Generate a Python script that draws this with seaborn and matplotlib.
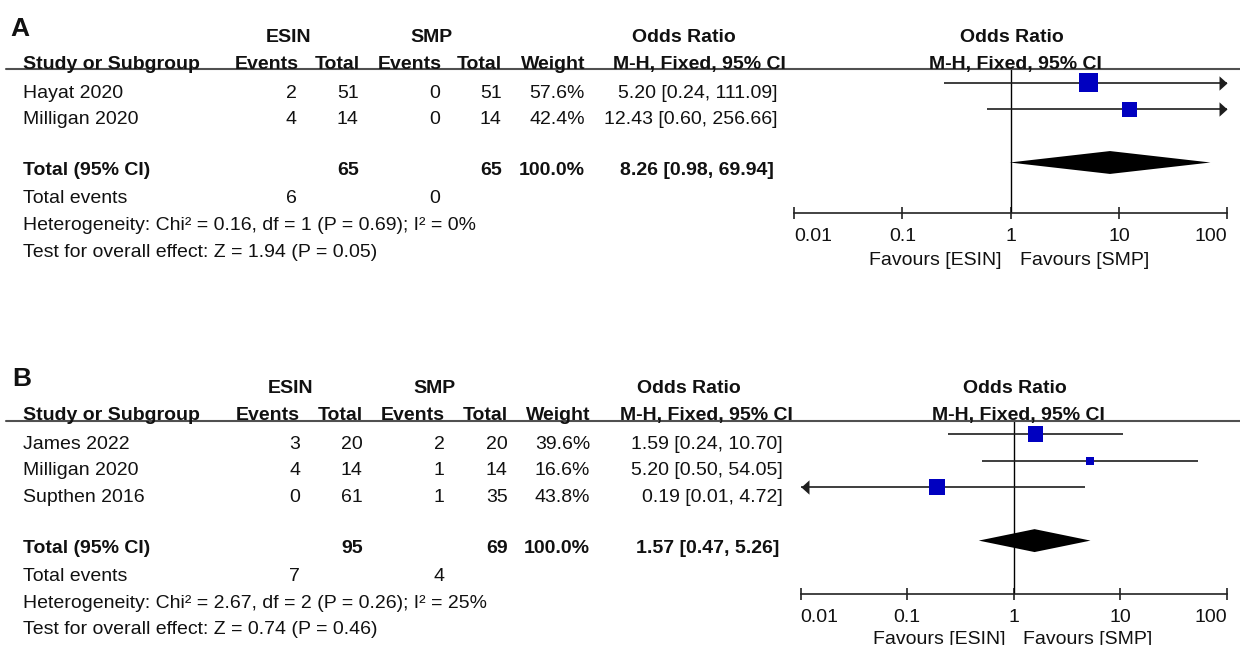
import numpy as np
import matplotlib
matplotlib.use("Agg")
import matplotlib.pyplot as plt
from matplotlib.lines import Line2D
from matplotlib.ticker import NullLocator
import seaborn as sns

# ---------------- data: panel A ----------------
a_studies = ["Hayat 2020", "Milligan 2020"]
a_esin_events = [2, 4]
a_esin_total = [51, 14]
a_smp_events = [0, 0]
a_smp_total = [51, 14]
a_weight = [57.6, 42.4]
a_or = [5.20, 12.43]
a_lo = [0.24, 0.60]
a_hi = [111.09, 256.66]
a_tot_esin, a_tot_smp = 65, 65
a_tot_or, a_tot_lo, a_tot_hi = 8.26, 0.98, 69.94
a_ev_esin, a_ev_smp = 6, 0
a_het = "Heterogeneity: Chi² = 0.16, df = 1 (P = 0.69); I² = 0%"
a_test = "Test for overall effect: Z = 1.94 (P = 0.05)"

# ---------------- data: panel B ----------------
b_studies = ["James 2022", "Milligan 2020", "Supthen 2016"]
b_esin_events = [3, 4, 0]
b_esin_total = [20, 14, 61]
b_smp_events = [2, 1, 1]
b_smp_total = [20, 14, 35]
b_weight = [39.6, 16.6, 43.8]
b_or = [1.59, 5.20, 0.19]
b_lo = [0.24, 0.50, 0.01]
b_hi = [10.70, 54.05, 4.72]
b_tot_esin, b_tot_smp = 95, 69
b_tot_or, b_tot_lo, b_tot_hi = 1.57, 0.47, 5.26
b_ev_esin, b_ev_smp = 7, 4
b_het = "Heterogeneity: Chi² = 2.67, df = 2 (P = 0.26); I² = 25%"
b_test = "Test for overall effect: Z = 0.74 (P = 0.46)"

axis_ticks = [0.01, 0.1, 1, 10, 100]
axis_ticklabels = ["0.01", "0.1", "1", "10", "100"]
fav_left, fav_right = "Favours [ESIN]", "Favours [SMP]"

# ---------------- style ----------------
sns.set_style("white")
plt.rcParams["font.family"] = ["Liberation Sans", "DejaVu Sans"]
W, H = 1240, 645
TXT = "#111111"
LINE = "#1e1e1e"
BLUE = "#0000C0"
FS = 14

fig = plt.figure(figsize=(W / 100, H / 100), dpi=100)
fig.patch.set_facecolor("white")


def T(x, yc, s, ha="left", bold=False, size=FS):
    base = yc + 0.358 * size * 100 / 72
    fig.text(x / W, 1 - base / H, s, ha=ha, va="baseline", fontsize=size,
             fontweight="bold" if bold else "normal", color=TXT)


R_ARROW = [(0, 0), (-0.5, 0.45), (-0.5, -0.45), (0, 0)]
L_ARROW = [(0, 0), (0.5, 0.45), (0.5, -0.45), (0, 0)]


def panel(letter, studies, ee, et, se, st, wt, ors, los, his,
          tot_e, tot_s, tor, tlo, thi, ev_e, ev_s, het, test, L):
    dy = L["dy"]
    # panel letter
    T(L["letter_x"], L["letter_y"], letter, bold=True, size=19)
    # header row 1
    y1 = 35 + dy
    T(L["esin_c"], y1, "ESIN", ha="center", bold=True)
    T(L["smp_c"], y1, "SMP", ha="center", bold=True)
    T(L["or_c"], y1, "Odds Ratio", ha="center", bold=True)
    T(L["ror_c"], y1, "Odds Ratio", ha="center", bold=True)
    # header row 2
    y2 = 61.7 + dy
    cols = L["cols"]
    T(22.7, y2, "Study or Subgroup", bold=True)
    T(L["hcols"][0], y2, "Events", ha="right", bold=True)
    T(L["hcols"][1], y2, "Total", ha="right", bold=True)
    T(L["hcols"][2], y2, "Events", ha="right", bold=True)
    T(L["hcols"][3], y2, "Total", ha="right", bold=True)
    T(L["hcols"][4], y2, "Weight", ha="right", bold=True)
    T(L["hcols"][5], y2, "M-H, Fixed, 95% CI", ha="right", bold=True)
    T(L["rmh_c"], y2, "M-H, Fixed, 95% CI", ha="center", bold=True)
    # header rule
    fig.add_artist(Line2D([6 / W, 1.0], [1 - L["rule"] / H] * 2,
                          transform=fig.transFigure, color="#505050", lw=1.5))
    # study rows
    ry0 = L["text_y0"]
    step = L["step"]
    for i, s in enumerate(studies):
        yc = ry0 + i * step
        T(22.7, yc, s)
        T(cols[0], yc, str(ee[i]), ha="right")
        T(cols[1], yc, str(et[i]), ha="right")
        T(cols[2], yc, str(se[i]), ha="right")
        T(cols[3], yc, str(st[i]), ha="right")
        T(cols[4], yc, f"{wt[i]:.1f}%", ha="right")
        T(cols[5], yc, f"{ors[i]:.2f} [{los[i]:.2f}, {his[i]:.2f}]", ha="right")
    n = len(studies)
    yt = ry0 + (n + 1) * step - 2
    T(22.7, yt, "Total (95% CI)", bold=True)
    T(cols[1], yt, str(tot_e), ha="right", bold=True)
    T(cols[3], yt, str(tot_s), ha="right", bold=True)
    T(cols[4], yt, f"{sum(wt):.1f}%", ha="right", bold=True)
    T(cols[5] - 3.5, yt, f"{tor:.2f} [{tlo:.2f}, {thi:.2f}]", ha="right", bold=True)
    ye = yt + 28
    T(22.7, ye, "Total events")
    T(cols[0], ye, str(ev_e), ha="right")
    T(cols[2], ye, str(ev_s), ha="right")
    T(22.7, ye + 26.8, het)
    T(22.7, ye + 53.2, test)

    # forest axes
    xl, xr, yt_px, yb_px = L["ax"]
    ax = fig.add_axes([xl / W, 1 - yb_px / H, (xr - xl) / W, (yb_px - yt_px) / H])
    ax.set_facecolor("none")
    ax.set_xscale("log")
    xmin, xmax = axis_ticks[0], axis_ticks[-1]
    rows = np.arange(n)
    for i in rows:
        lo_c, hi_c = max(los[i], xmin), min(his[i], xmax)
        ax.plot([lo_c, hi_c], [i, i], color=LINE, lw=1.2, solid_capstyle="butt")
        if his[i] >= xmax:
            ax.plot([xmax], [i], marker=R_ARROW, ms=11.5, color=LINE, mew=0, clip_on=False)
        if los[i] <= xmin:
            ax.plot([xmin], [i], marker=L_ARROW, ms=11.5, color=LINE, mew=0, clip_on=False)
    sns.scatterplot(x=ors, y=rows, size=wt, sizes=L["sizes"], marker="s",
                    color=BLUE, linewidth=0, legend=False, ax=ax, zorder=3)
    tr = n + 1
    h = 0.43
    ax.fill([tlo, tor, thi, tor], [tr, tr - h, tr, tr + h], color="black", lw=0, zorder=3)
    ax.axvline(1, color="black", lw=1.0, zorder=1)
    ax.set_xlim(xmin, xmax)
    ax.set_ylim(L["ylim"])
    ax.set_xlabel("")
    ax.set_ylabel("")
    ax.set_yticks([])
    for sp in ["top", "right", "left"]:
        ax.spines[sp].set_visible(False)
    ax.spines["bottom"].set_color("#222222")
    ax.spines["bottom"].set_linewidth(1.2)
    ax.set_xticks(axis_ticks)
    ax.set_xticklabels(axis_ticklabels)
    ax.xaxis.set_minor_locator(NullLocator())
    ax.tick_params(axis="x", which="major", bottom=True, direction="inout",
                   length=8.6, width=1.2, pad=6.5, labelsize=FS,
                   color="#222222", labelcolor=TXT)
    ticks = ax.xaxis.get_major_ticks()
    ticks[0].label1.set_horizontalalignment("left")
    ticks[-1].label1.set_horizontalalignment("right")
    # favours labels
    x1 = L["one_x"]
    T(x1 - 9, L["fav_y"], fav_left, ha="right")
    T(x1 + 9, L["fav_y"], fav_right, ha="left")
    return ax


layout_a = dict(dy=0, letter_x=10, letter_y=27, esin_c=289, smp_c=431, or_c=683.5,
                ror_c=1012, rmh_c=1015,
                hcols=[298.3, 360, 441.7, 501.7, 585, 786],
                cols=[297, 358.5, 440.5, 501.7, 585, 777],
                rule=69.3, text_y0=90.7, step=26.6,
                ax=(794, 1227.3, 69.3, 213.3),
                ylim=((213.3 - 82.7) / 26.6, (69.3 - 82.7) / 26.6),
                sizes=(117, 187), one_x=1010.7, fav_y=258.3)

layout_b = dict(dy=351, letter_x=12, letter_y=377, esin_c=290.8, smp_c=434.2, or_c=689,
                ror_c=1015, rmh_c=1018.3,
                hcols=[300, 363, 445, 508.3, 590, 793.3],
                cols=[300, 362.7, 444.5, 507.7, 590, 782.7],
                rule=421, text_y0=441.7, step=26.65,
                ax=(800.7, 1226.7, 421, 594),
                ylim=((594 - 434) / 26.65, (421 - 434) / 26.65),
                sizes=(33, 133), one_x=1014.3, fav_y=636.7)

panel("A", a_studies, a_esin_events, a_esin_total, a_smp_events, a_smp_total,
      a_weight, a_or, a_lo, a_hi, a_tot_esin, a_tot_smp, a_tot_or, a_tot_lo,
      a_tot_hi, a_ev_esin, a_ev_smp, a_het, a_test, layout_a)
panel("B", b_studies, b_esin_events, b_esin_total, b_smp_events, b_smp_total,
      b_weight, b_or, b_lo, b_hi, b_tot_esin, b_tot_smp, b_tot_or, b_tot_lo,
      b_tot_hi, b_ev_esin, b_ev_smp, b_het, b_test, layout_b)

fig.savefig("out.png", dpi=100, facecolor="white")
